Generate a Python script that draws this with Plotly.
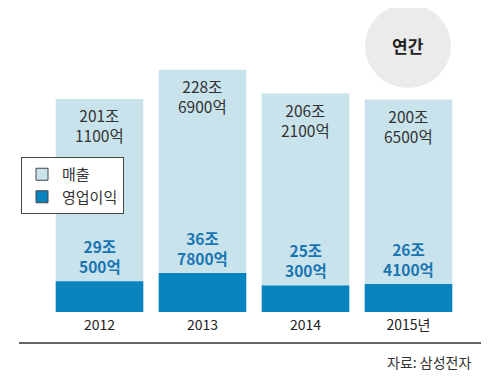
import plotly.graph_objects as go

years = ["2012", "2013", "2014", "2015"]
year_labels = ["2012", "2013", "2014", "2015년"]
sales = [201.11, 228.69, 206.21, 200.65]          # 조원
profit = [29.05, 36.78, 25.03, 26.41]             # 조원
sales_l1 = ["201조", "228조", "206조", "200조"]
sales_l2 = ["1100억", "6900억", "2100억", "6500억"]
profit_l1 = ["29조", "36조", "25조", "26조"]
profit_l2 = ["500억", "7800억", "300억", "4100억"]

LIGHT = "#c9e3ec"
DARK = "#0a84bf"
FONT = "Noto Sans CJK KR"

OFF = 8  # page body margin
W, H = 500 - OFF, 378 - OFF
L, R, T, B = 40, 40, 2, 66
PW, PH = W - L - R, H - T - B


def px(x):
    return (x - OFF - L) / PW


def py(y):
    return (H - B - (y - OFF)) / PH


fig = go.Figure()
fig.add_trace(go.Bar(x=years, y=sales, marker=dict(color=LIGHT, line=dict(width=0)),
                     showlegend=False, hoverinfo="skip"))
fig.add_trace(go.Bar(x=years, y=profit, marker=dict(color=DARK, line=dict(width=0)),
                     showlegend=False, hoverinfo="skip"))
# legend entries
fig.add_trace(go.Bar(x=[None], y=[None], name="매출",
                     marker=dict(color=LIGHT, line=dict(color="#444", width=1))))
fig.add_trace(go.Bar(x=[None], y=[None], name="영업이익",
                     marker=dict(color=DARK, line=dict(color="#444", width=1))))

ann = []
for i, c in enumerate(years):
    ann.append(dict(x=i, y=sales[i], xref="x", yref="y",
                    text="%s<br>%s" % (sales_l1[i], sales_l2[i]), showarrow=False,
                    yanchor="middle", yshift=-26.5, borderpad=0,
                    font=dict(size=15.5, color="#333", family=FONT)))
    ann.append(dict(x=i, y=profit[i], xref="x", yref="y",
                    text="<b>%s<br>%s</b>" % (profit_l1[i], profit_l2[i]),
                    showarrow=False, yanchor="middle", yshift=25, borderpad=0,
                    font=dict(size=15.5, color="#1a76b2", family=FONT)))

ann.append(dict(x=px(408), y=py(45), xref="paper", yref="paper", text="<b>연간</b>",
                showarrow=False, xanchor="center", yanchor="middle",
                font=dict(size=17, color="#222", family=FONT)))
ann.append(dict(x=px(473), y=py(362), xref="paper", yref="paper", text="자료: 삼성전자",
                showarrow=False, xanchor="right", yanchor="middle",
                font=dict(size=14, color="#333", family=FONT)))

shapes = [
    dict(type="circle", xref="paper", yref="paper", x0=px(365), x1=px(451),
         y0=py(88), y1=py(4), fillcolor="#ebebeb", line=dict(width=0), layer="below"),
    dict(type="line", xref="paper", yref="paper", x0=px(19), x1=px(481),
         y0=py(343), y1=py(343), line=dict(color="#666", width=2)),
]

fig.update_layout(
    width=W, height=H,
    margin=dict(l=L, r=R, t=T, b=B),
    paper_bgcolor="white", plot_bgcolor="white",
    barmode="overlay", bargap=0.15,
    font=dict(family=FONT, color="#222"),
    xaxis=dict(type="category", categoryorder="array", categoryarray=years,
               range=[-0.5, 3.5], tickvals=years, ticktext=year_labels,
               showgrid=False, zeroline=False, showline=False, ticks="",
               ticklabelstandoff=3,
               tickfont=dict(size=14, color="#222", family=FONT)),
    yaxis=dict(range=[0, 285], visible=False, fixedrange=True),
    legend=dict(x=px(21), y=py(157), xanchor="left", yanchor="top",
                bgcolor="white", bordercolor="#444", borderwidth=1,
                font=dict(size=15, color="#333", family=FONT),
                tracegroupgap=2, itemwidth=30),
    annotations=ann,
    shapes=shapes,
    showlegend=True,
)

fig.write_html("out.html")
